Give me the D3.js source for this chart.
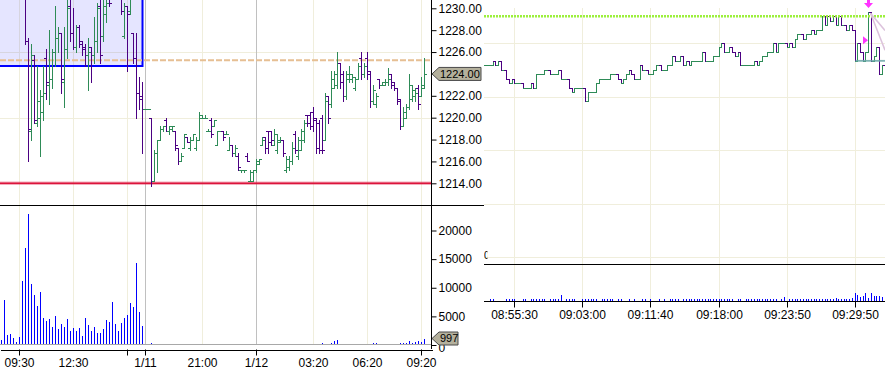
<!DOCTYPE html>
<html>
<head>
<meta charset="utf-8">
<script src="https://cdn.jsdelivr.net/npm/d3@7"></script>
<style>
  body { margin: 0; background: #fff; }
  svg { display: block; }
  text { font-family: "Liberation Sans", Arial, sans-serif; font-size: 12px; fill: #000; }
</style>
</head>
<body>
<div id="chart"></div>
<script>
// left pane: 10 minute bars [open, high, low, close], slot index = bar number
const leftBars = [
  [1233.5,1234.5,1232.75,1234.0],[1234.0,1235.0,1233.0,1233.5],[1233.5,1234.25,1232.5,1232.75],[1232.75,1233.5,1232.0,1233.25],
  [1233.25,1234.0,1232.25,1232.5],[1232.5,1233.25,1231.5,1231.75],[1231.75,1232.75,1231.25,1232.5],[1232.5,1233.0,1231.25,1231.5],
  [1231.5,1232.25,1226.75,1227.0],[1227.0,1227.25,1216.0,1219.0],[1218.75,1226.75,1218.0,1225.75],[1225.25,1225.75,1219.5,1219.75],
  [1219.5,1224.75,1219.25,1221.5],[1220.0,1222.5,1216.5,1222.0],[1220.5,1224.75,1219.75,1222.25],[1225.5,1226.25,1221.75,1223.25],
  [1223.0,1228.0,1221.25,1223.5],[1223.5,1226.25,1222.75,1226.0],[1226.0,1230.25,1224.75,1227.25],[1227.25,1228.25,1226.0,1227.75],
  [1227.75,1227.75,1222.25,1223.5],[1223.25,1228.25,1221.0,1226.25],[1226.25,1231.25,1225.5,1230.0],[1230.25,1231.5,1227.0,1227.75],
  [1227.75,1230.0,1226.25,1226.5],[1226.5,1228.5,1226.0,1228.25],[1228.25,1228.5,1226.5,1226.75],[1227.0,1227.0,1225.75,1226.25],
  [1226.5,1226.75,1224.75,1225.75],[1225.75,1227.25,1222.5,1226.0],[1226.5,1226.5,1223.25,1225.75],[1225.75,1229.25,1225.0,1227.0],
  [1227.0,1230.5,1226.0,1230.0],[1230.25,1231.5,1225.0,1225.75],[1227.5,1231.5,1227.0,1230.25],[1229.5,1231.75,1228.75,1230.5],
  [1232.0,1233.0,1230.25,1230.5],[1231.5,1233.5,1231.0,1232.0],[1232.0,1234.0,1231.25,1233.0],[1233.0,1233.5,1231.0,1231.5],
  [1231.75,1232.5,1229.5,1229.75],[1227.5,1230.5,1227.25,1230.25],[1230.25,1230.25,1224.25,1229.5],[1229.75,1232.0,1229.5,1231.5],
  [1227.75,1227.75,1225.0,1225.5],[1225.5,1227.75,1220.0,1222.25],[1222.25,1223.75,1220.75,1221.75],[1222.0,1223.25,1216.75,1220.75],
  [1220.75,1220.75,1220.75,1220.75],[1220.75,1220.75,1220.75,1220.75],
  [1220.0,1220.0,1213.75,1214.25],[1214.25,1217.0,1214.25,1216.75],[1216.75,1218.0,1215.0,1218.0],[1218.0,1219.25,1218.0,1219.0],
  [1219.0,1219.25,1218.75,1219.25],[1219.75,1220.0,1218.75,1218.75],[1218.75,1219.25,1218.5,1219.25],[1219.0,1219.25,1218.75,1219.25],
  [1218.75,1218.75,1217.0,1217.5],[1217.25,1217.25,1215.75,1216.0],[1216.0,1216.75,1216.0,1216.5],[1217.25,1218.5,1217.25,1218.5],
  [1218.25,1218.25,1217.75,1217.75],[1217.25,1218.25,1217.0,1218.0],[1218.0,1218.5,1218.0,1218.5],[1217.25,1218.25,1217.0,1218.0],
  [1218.0,1220.5,1218.0,1220.25],[1220.0,1220.25,1220.0,1220.0],[1220.0,1220.25,1220.0,1220.0],[1218.75,1219.0,1218.75,1218.75],
  [1219.75,1220.0,1218.25,1218.5],[1219.25,1219.75,1219.25,1219.75],[1217.5,1218.75,1217.5,1218.75],[1218.75,1218.75,1218.75,1218.75],
  [1218.75,1218.75,1218.0,1218.25],[1218.5,1218.75,1218.5,1218.5],[1217.0,1218.25,1217.0,1217.5],[1217.5,1217.5,1216.5,1216.75],
  [1216.75,1217.5,1216.5,1217.25],[1216.5,1216.75,1215.25,1215.5],[1215.25,1215.25,1215.0,1215.25],[1215.25,1215.25,1215.0,1215.25],
  [1216.5,1216.75,1216.0,1216.0],[1214.25,1215.25,1214.25,1215.0],[1214.25,1215.25,1214.25,1215.25],[1215.25,1216.25,1215.0,1216.0],
  [1215.75,1216.25,1215.75,1216.25],[1217.5,1218.25,1217.5,1218.0],[1218.25,1218.25,1216.75,1217.25],[1218.75,1218.75,1216.75,1217.75],
  [1218.75,1218.75,1217.5,1218.0],[1217.5,1219.0,1217.5,1218.5],[1217.0,1218.5,1216.75,1218.0],[1217.75,1218.25,1217.75,1218.0],
  [1218.0,1218.0,1216.5,1216.75],[1215.25,1216.5,1215.0,1216.25],[1215.5,1216.5,1215.25,1216.0],[1216.0,1217.75,1215.75,1217.25],
  [1218.5,1218.75,1216.75,1217.0],[1216.5,1218.25,1216.25,1218.0],[1217.0,1219.0,1217.0,1218.75],[1218.0,1219.75,1217.75,1219.5],
  [1220.25,1220.25,1219.25,1219.5],[1220.25,1220.5,1219.0,1219.25],[1220.5,1221.0,1218.75,1219.75],[1220.0,1220.0,1216.75,1217.25],
  [1219.5,1219.75,1216.75,1217.0],[1220.0,1220.25,1216.75,1217.0],[1218.0,1222.25,1218.0,1221.5],[1222.0,1222.0,1219.5,1220.0],
  [1221.25,1224.25,1221.0,1223.5],[1222.75,1224.25,1222.75,1224.0],[1223.0,1226.0,1222.75,1225.0],[1225.0,1225.0,1222.75,1223.25],
  [1224.0,1224.25,1221.5,1222.0],[1222.0,1224.25,1221.75,1224.0],[1223.5,1224.75,1223.25,1224.0],[1223.5,1224.0,1223.25,1223.75],
  [1222.75,1223.75,1222.5,1223.5],[1223.5,1225.0,1223.5,1224.75],[1225.5,1226.0,1223.5,1224.0],[1224.0,1225.0,1223.75,1224.75],
  [1225.5,1226.0,1223.5,1224.0],[1224.25,1224.25,1221.0,1221.5],[1221.5,1223.0,1221.25,1222.5],[1221.25,1222.25,1221.0,1222.0],
  [1223.5,1223.5,1222.75,1223.0],[1223.0,1223.25,1223.0,1223.25],[1223.0,1223.5,1223.0,1223.25],[1223.25,1224.5,1223.0,1223.5],
  [1224.0,1224.0,1222.75,1223.0],[1223.25,1223.25,1222.5,1222.75],[1222.75,1222.75,1221.25,1221.5],[1221.75,1221.75,1219.0,1219.25],
  [1219.25,1221.0,1219.25,1220.5],[1220.0,1221.25,1220.0,1221.0],[1221.0,1224.0,1220.75,1223.0],[1221.75,1223.0,1221.5,1222.5],
  [1222.0,1222.75,1221.5,1222.25],[1222.75,1223.0,1220.75,1221.25],[1222.0,1223.75,1222.0,1223.0],[1222.75,1225.5,1222.75,1224.0]
];
const leftVolume = [
  870,7870,1750,1920,1280,580,1460,11240,16900,22900,10660,8740,6820,9260,4780,4200,
  4540,3200,5070,2800,3670,3200,4540,2450,3020,2450,3020,1570,4720,3500,2450,3150,
  2150,2150,2800,4370,4020,7520,3670,2450,3850,4780,5240,7340,6640,14390,5770,3320,
  0,0,400,0,0,0,0,0,0,0,0,0,0,0,0,0,
  0,0,0,0,0,0,0,0,0,0,0,0,0,0,0,0,
  0,0,0,0,0,0,0,0,0,0,0,0,0,0,0,0,
  0,0,0,0,0,0,0,0,0,0,0,400,0,0,400,750,
  870,0,0,0,0,0,0,0,0,0,0,0,400,400,0,0,
  0,0,0,0,0,400,400,400,750,400,580,750,580,997
];
const leftTickIndex = [6, 24, 48, 67, 85, 104, 122, 140];
const leftTickLabels = ["09:30", "12:30", "1/11", "21:00", "1/12", "03:20", "06:20", "09:20"];
const leftTickMarks = [6, 42, 48, 85, 140];
const leftGridCream = [6, 24, 42, 67, 104, 122, 140];
const leftGridDay = [48, 85];
const priceTicks = [1214, 1216, 1218, 1220, 1222, 1224, 1226, 1228, 1230];
const priceGrid = [1220, 1226];
const volumeTicks = [0, 5000, 10000, 15000, 20000];

// right pane: tick-chart closes and volumes
const rightClose = [
  1225.75,1225.75,1225.75,1226.0,1225.75,1226.0,1225.5,1225.5,1225.0,1224.75,1225.0,1224.75,1224.75,1224.75,1224.5,1224.5,
  1224.5,1224.75,1224.5,1225.25,1225.25,1225.25,1225.5,1225.5,1225.25,1225.25,1225.25,1225.5,1225.0,1225.0,1225.0,1224.5,
  1224.25,1224.5,1224.5,1224.5,1224.5,1223.75,1224.25,1224.25,1224.25,1224.75,1225.0,1225.0,1225.0,1225.0,1225.25,1225.25,
  1225.25,1225.0,1224.75,1225.0,1225.25,1225.5,1225.25,1225.0,1225.0,1225.75,1225.5,1225.5,1225.25,1225.25,1225.5,1225.75,
  1225.75,1225.5,1225.5,1225.75,1225.75,1226.25,1226.0,1226.0,1226.25,1225.75,1226.0,1225.75,1226.0,1226.0,1226.0,1226.0,
  1226.5,1226.0,1226.0,1226.0,1226.25,1226.25,1226.75,1227.0,1226.5,1226.5,1226.75,1226.5,1226.25,1226.5,1225.75,1225.75,
  1225.75,1225.75,1225.75,1226.0,1225.75,1226.0,1226.25,1226.25,1226.5,1226.5,1227.0,1226.5,1227.0,1227.0,1227.0,1226.75,
  1227.0,1226.75,1227.25,1227.5,1227.5,1227.25,1227.5,1227.5,1227.75,1227.5,1227.75,1227.75,1228.5,1228.0,1228.5,1228.25,
  1228.5,1228.0,1228.5,1228.0,1228.0,1227.75,1228.0,1227.75,1226.0,1227.0,1226.5,1226.0,1226.5,1228.75,1226.0,1226.25,
  1226.75,1225.25,1225.75,1225.25
];
const rightVolume = [
  0,0,2,2,0,0,0,0,2,2,2,2,0,0,2,2,0,2,2,2,2,2,2,0,2,2,2,2,6,0,2,2,
  2,2,0,0,2,2,2,2,2,2,0,2,2,2,2,2,0,2,2,0,0,2,0,2,0,0,2,2,0,2,0,0,
  2,0,2,0,2,2,2,2,0,2,2,2,2,2,2,2,2,2,2,2,2,2,2,2,2,2,2,2,0,2,2,0,
  2,2,2,2,2,2,2,2,2,2,2,2,0,2,4,0,2,2,2,2,2,2,2,2,2,2,2,2,2,2,2,2,
  2,3,2,2,2,2,2,3,8,6,4,5,8,3,8,5,5,5,4,6
];
const rightTickIndex = [11, 36, 61, 86, 111, 136];
const rightTickLabels = ["08:55:30", "09:03:00", "09:11:40", "09:18:00", "09:23:50", "09:29:50"];
const rightPriceGrid = [1215, 1218, 1221, 1224, 1227];

const lastPrice = 1224, lastVolume = 997;
const boxBottom = 1224.75, dashLevel = 1225.25, supportLevel = 1214;
const rightHighLevel = 1228.5, rightLastLevel = 1226;

const UP = "#2e8b57", DOWN = "#4b0082", GRID = "#f0eedc", DAY = "#c0c0c0";

const svg = d3.select("#chart").append("svg")
  .attr("width", 885).attr("height", 370);

const xL = d3.scaleBand().domain(d3.range(144)).range([0, 432]);
const cx = k => xL(k) + xL.bandwidth() / 2;
const yP = d3.scaleLinear().domain([1214, 1230]).range([183.3, 8.3]);
const yV = d3.scaleLinear().domain([0, 20000]).range([345, 230.5]);
const xR = d3.scaleLinear().domain([0, 147]).range([484.5, 884.5]);
const rx = i => Math.round(xR(i)) + 0.5;
const yR = d3.scaleLinear().domain([1215, 1227]).range([257, 43]);
const yRV = d3.scaleLinear().domain([0, 37]).range([301, 264]);

const defs = svg.append("defs");
defs.append("clipPath").attr("id", "clipPrice").append("rect").attr("x", 0).attr("y", 0).attr("width", 431).attr("height", 205);
defs.append("clipPath").attr("id", "clipRight").append("rect").attr("x", 484).attr("y", 0).attr("width", 401).attr("height", 264);
defs.append("clipPath").attr("id", "clipZero").append("rect").attr("x", 484).attr("y", 240).attr("width", 3.5).attr("height", 24);

const crisp = g => g.attr("shape-rendering", "crispEdges");

// gridlines, left pane
const gridL = svg.append("g").call(crisp);
gridL.selectAll(".vc").data(leftGridCream).join("line")
  .attr("x1", cx).attr("x2", cx).attr("y1", 0).attr("y2", 344)
  .attr("stroke", GRID);
gridL.selectAll(".hc").data(priceGrid).join("line")
  .attr("x1", 0).attr("x2", 431).attr("y1", d => Math.round(yP(d)) + 0.5).attr("y2", d => Math.round(yP(d)) + 0.5)
  .attr("stroke", GRID);

// gridlines, right pane
const gridR = svg.append("g").call(crisp);
gridR.selectAll(".rv").data(rightTickIndex).join("line")
  .attr("x1", rx).attr("x2", rx).attr("y1", 8).attr("y2", 301)
  .attr("stroke", GRID);
gridR.selectAll(".rh").data(rightPriceGrid).join("line")
  .attr("x1", 484).attr("x2", 885).attr("y1", d => Math.round(yR(d)) + 0.5).attr("y2", d => Math.round(yR(d)) + 0.5)
  .attr("stroke", GRID);

// blue selection box
svg.append("rect")
  .attr("x", -2).attr("y", -2)
  .attr("width", cx(47) + 2).attr("height", Math.round(yP(boxBottom)) + 2)
  .attr("fill", "rgba(0,0,255,0.1)")
  .attr("stroke", "#0000ff").attr("stroke-width", 2);

// day separators
gridL.selectAll(".vd").data(leftGridDay).join("line")
  .attr("x1", cx).attr("x2", cx).attr("y1", 0).attr("y2", 344)
  .attr("stroke", DAY);

// dashed level and support line
svg.append("line")
  .attr("x1", 0).attr("x2", 431).attr("y1", yP(dashLevel)).attr("y2", yP(dashLevel))
  .attr("stroke", "#e6bf93").attr("stroke-width", 2).attr("stroke-dasharray", "6,2");
svg.append("line")
  .attr("x1", 0).attr("x2", 431).attr("y1", yP(supportLevel)).attr("y2", yP(supportLevel))
  .attr("stroke", "rgba(220,20,60,0.35)").attr("stroke-width", 3.5);
svg.append("line")
  .attr("x1", 0).attr("x2", 431).attr("y1", yP(supportLevel)).attr("y2", yP(supportLevel))
  .attr("stroke", "#dc143c").attr("stroke-width", 1.5);

// OHLC bars
function barPath(x, o, h, l, c, y, lt, rt) {
  const yo = Math.round(y(o)) + 0.5, yc = Math.round(y(c)) + 0.5;
  return `M${x},${Math.round(y(h))}V${Math.round(y(l)) + 1}` +
    `M${x - lt},${yo}H${x + 0.5}M${x - 0.5},${yc}H${x + rt}`;
}
svg.append("g").attr("clip-path", "url(#clipPrice)").call(crisp)
  .selectAll("path").data(leftBars).join("path")
  .attr("d", (d, k) => barPath(cx(k), d[0], d[1], d[2], d[3], yP, 2.5, 2.5))
  .attr("fill", "none")
  .attr("stroke", d => d[3] >= d[0] ? UP : DOWN);

// left volume
svg.append("line").attr("x1", 0).attr("x2", 431).attr("y1", 344.5).attr("y2", 344.5)
  .attr("stroke", "#a8a8a8").call(crisp);
svg.append("g").call(crisp)
  .selectAll("line").data(leftVolume).join("line")
  .attr("x1", (d, k) => cx(k)).attr("x2", (d, k) => cx(k))
  .attr("y1", 344).attr("y2", d => Math.min(344, Math.round(yV(d))))
  .attr("stroke", "#0000ff")
  .attr("display", d => d > 0 ? null : "none");

// right tick chart
const rightBars = rightClose.map((c, i) => [i === 0 ? c : rightClose[i - 1], c]);
svg.append("g").attr("clip-path", "url(#clipRight)").call(crisp)
  .selectAll("path").data(rightBars).join("path")
  .attr("d", (d, i) => barPath(rx(i), d[0], Math.max(d[0], d[1]), Math.min(d[0], d[1]), d[1], yR, 2.5, 1.5))
  .attr("fill", "none")
  .attr("stroke", d => d[1] >= d[0] ? UP : DOWN);

svg.append("line")
  .attr("x1", 484).attr("x2", 885).attr("y1", yR(rightHighLevel)).attr("y2", yR(rightHighLevel))
  .attr("stroke", "#9cf03c").attr("stroke-width", 2.5).attr("stroke-dasharray", "2,1");
svg.append("line")
  .attr("x1", rx(136)).attr("x2", 885).attr("y1", yR(rightLastLevel)).attr("y2", yR(rightLastLevel))
  .attr("stroke", "#6aa8a8").attr("stroke-width", 1.8).attr("opacity", 0.85);

// trade markers
const mx = rx(141), my = yR(rightHighLevel);
svg.append("g").attr("stroke", "#dcc2dc").attr("stroke-width", 1.5)
  .selectAll("line").data([[885, yR(1227.7)], [885, yR(1226.6)]]).join("line")
  .attr("x1", mx + 2).attr("y1", my - 3).attr("x2", d => d[0]).attr("y2", d => d[1]);
svg.append("path")
  .attr("d", `M${mx - 1.5},0H${mx + 1.5}V3H${mx + 4.5}L${mx},8L${mx - 4.5},3H${mx - 1.5}Z`)
  .attr("fill", "#ff33ff");
const ty = yR(1227.15);
svg.append("path")
  .attr("d", `M${mx - 5.5},${ty - 4}L${mx - 0.5},${ty}L${mx - 5.5},${ty + 4}Z`)
  .attr("fill", "#ff33ff");

// right volume
svg.append("g").call(crisp)
  .selectAll("line").data(rightVolume).join("line")
  .attr("x1", (d, i) => rx(i)).attr("x2", (d, i) => rx(i))
  .attr("y1", 301).attr("y2", d => Math.round(yRV(d)))
  .attr("stroke", "#0000ff")
  .attr("display", d => d > 0 ? null : "none");

// frame lines
const frame = svg.append("g").attr("stroke", "#000").call(crisp);
frame.append("line").attr("x1", 0).attr("x2", 484).attr("y1", 205.5).attr("y2", 205.5);
frame.append("line").attr("x1", 431.5).attr("x2", 431.5).attr("y1", 0).attr("y2", 349);
frame.append("line").attr("x1", 484).attr("x2", 885).attr("y1", 264.5).attr("y2", 264.5);
frame.append("line").attr("x1", 484).attr("x2", 885).attr("y1", 301.5).attr("y2", 301.5);

// price axis, the last price flag takes the place of its own tick label
svg.append("g")
  .attr("transform", "translate(431.5,0)")
  .call(d3.axisRight(yP).tickValues(priceTicks).tickFormat(d3.format(".2f")).tickSize(5).tickPadding(2))
  .call(g => g.select(".domain").remove())
  .call(g => g.selectAll("text").attr("fill", "#000"))
  .call(g => g.selectAll(".tick").filter(d => d === lastPrice).select("text").remove());

// volume axis, the zero label sits under the volume flag
svg.append("g")
  .attr("transform", "translate(431.5,0)")
  .call(d3.axisRight(yV).tickValues(volumeTicks).tickFormat(d3.format("d")).tickSize(5).tickPadding(2))
  .call(g => g.select(".domain").remove())
  .call(g => g.selectAll("text").attr("fill", "#000"))
  .call(g => g.selectAll(".tick").filter(d => d === 0).select("text").attr("dy", "0.55em"));

// left time axis
svg.append("g")
  .attr("transform", "translate(0,349.5)")
  .call(d3.axisBottom(xL).tickValues(leftTickIndex)
    .tickFormat(d => leftTickLabels[leftTickIndex.indexOf(d)]).tickSize(0).tickSizeOuter(0).tickPadding(9))
  .call(g => g.selectAll("text").attr("fill", "#000"))
  .call(g => g.select(".domain").attr("shape-rendering", "crispEdges"));
svg.append("g")
  .attr("transform", "translate(0,349.5)")
  .call(d3.axisBottom(xL).tickValues(leftTickMarks).tickFormat("").tickSize(6))
  .call(g => g.select(".domain").remove());

// right time axis
svg.append("g")
  .attr("transform", "translate(0,301.5)")
  .call(d3.axisBottom(xR).tickValues(rightTickIndex)
    .tickFormat(d => rightTickLabels[rightTickIndex.indexOf(d)]).tickSize(6).tickPadding(3))
  .call(g => g.select(".domain").remove())
  .call(g => g.selectAll(".tick").attr("transform", d => `translate(${rx(d)},0)`))
  .call(g => g.selectAll("text").attr("fill", "#000"));

// clipped scale label of the right pane
svg.append("text").attr("x", 484).attr("y", 258.5).attr("clip-path", "url(#clipZero)")
  .style("font-size", "10px").text("0");

// last value flags
function flag(y, w, label) {
  const g = svg.append("g");
  g.append("path")
    .attr("d", `M432,${y}L439,${y - 6.5}H${432 + w}V${y + 6.5}H439Z`)
    .attr("fill", "#b4b09c").attr("stroke", "#4a4a4a");
  g.append("text").attr("x", 440).attr("y", y).attr("dy", "0.36em")
    .style("font-size", "11px").text(label);
}
flag(yP(lastPrice), 49, d3.format(".2f")(lastPrice));
flag(Math.round(yV(lastVolume)) - 0.5, 26, lastVolume);
</script>
</body>
</html>
